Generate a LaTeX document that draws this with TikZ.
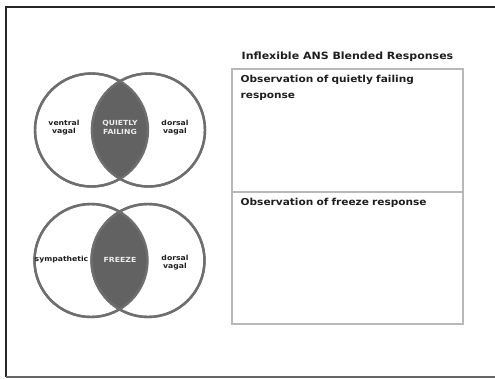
\documentclass[tikz,border=0pt]{standalone}
\usepackage{fontspec}
\setmainfont{DejaVu Sans}[FakeStretch=1.1]
\definecolor{ringgray}{HTML}{6E6E6E}
\definecolor{lensgray}{HTML}{626262}
\definecolor{boxgray}{HTML}{B8B8B8}
\definecolor{inktext}{HTML}{1E1E1E}
\begin{document}
\begin{tikzpicture}[x=1pt,y=-1pt,
  ring/.style={circle, draw=ringgray, line width=2.4pt, minimum size=113pt, inner sep=0pt},
  lbl/.style={font=\fontsize{7}{8.8}\selectfont\bfseries, align=center, inner sep=0pt, text=inktext},
  lenslbl/.style={lbl, text=white!92!black},
  heading/.style={font=\fontsize{10}{12}\selectfont\bfseries, inner sep=0pt, text=inktext},
  boxtext/.style={font=\fontsize{9.6}{16}\selectfont\bfseries, inner sep=0pt, text=inktext, align=left, text width=215pt},
  panel/.style={draw=boxgray, line width=1.4pt}]
\useasboundingbox (0,0) rectangle (495,378);

% outer frame (the right side runs past the page edge)
\draw[black!85, line width=2pt] (497,7) -- (6,7) -- (6,377);
\draw[black!60, line width=1.6pt] (6,377) -- (497,377);

% ---- upper Venn: ventral vagal / dorsal vagal ----
\node[ring, fill=white] (qL) at (91.5,130) {};
\node[ring, fill=white] (qR) at (148.5,130) {};
\begin{scope}
  \clip (qL.center) circle (56.5);
  \fill[lensgray] (qR.center) circle (56.5);
\end{scope}
\node[ring] at (qL.center) {};
\node[ring] at (qR.center) {};
\node[lbl] (ventral) at (64,127.5) {ventral\\vagal};
\node[lenslbl] (quiet) at (120,127.5) {QUIETLY\\FAILING};
\node[lbl] (dorsalA) at (175,127.5) {dorsal\\vagal};

% ---- lower Venn: sympathetic / dorsal vagal ----
\node[ring, fill=white] (fL) at (91,260.5) {};
\node[ring, fill=white] (fR) at (148,260.5) {};
\begin{scope}
  \clip (fL.center) circle (56.5);
  \fill[lensgray] (fR.center) circle (56.5);
\end{scope}
\node[ring] at (fL.center) {};
\node[ring] at (fR.center) {};
\node[lbl] (symp) at (61.5,260) {sympathetic};
\node[lenslbl] (freeze) at (120,260) {FREEZE};
\node[lbl] (dorsalB) at (175,262.5) {dorsal\\vagal};

% ---- observation panels ----
\node[heading, anchor=base] (title) at (347.5,59) {Inflexible ANS Blended Responses};
\draw[panel] (232,69) rectangle (463,324);
\draw[panel] (232,192) -- (463,192);
\node[boxtext, anchor=base west] (obsQ) at (240.5,82.5) {Observation of quietly failing\\response};
\node[boxtext, anchor=base west] (obsF) at (240.5,205.5) {Observation of freeze response};
\end{tikzpicture}
\end{document}
